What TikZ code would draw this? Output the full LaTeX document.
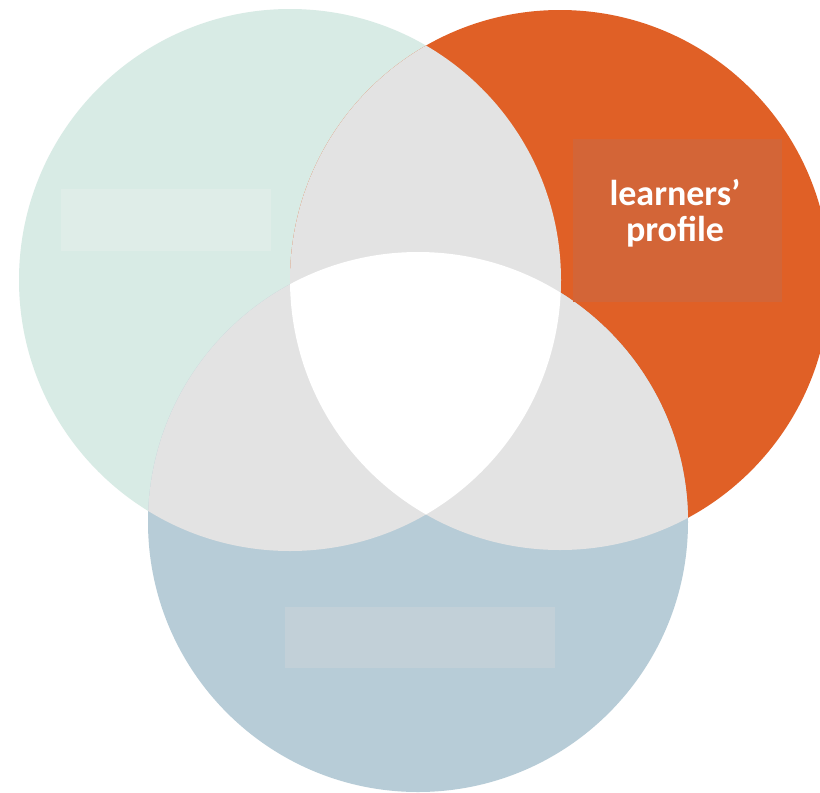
\documentclass[tikz,border=0pt]{standalone}
\usepackage{fontspec}
\setmainfont{Carlito}
\definecolor{mint}{HTML}{D8EBE5}
\definecolor{orng}{HTML}{E06026}
\definecolor{bluegray}{HTML}{B7CCD7}
\definecolor{overlap}{HTML}{E3E3E3}
\definecolor{mintbox}{HTML}{DFEDE8}
\definecolor{orngbox}{HTML}{D36537}
\definecolor{bluebox}{HTML}{C2D0D8}
\tikzset{
  labelbox/.style={draw=none, inner sep=0pt, anchor=north west},
  lbltext/.style={text=white, font=\fontsize{36}{36}\selectfont\bfseries, align=center, inner sep=0pt}
}
\begin{document}
\begin{tikzpicture}[x=1pt,y=-1pt]
\useasboundingbox (0,0) rectangle (820,793);
\fill[white] (0,0) rectangle (820,793);
\def\circA{(290,280) circle[radius=271pt]}
\def\circB{(560,280) circle[radius=270pt]}
\def\circC{(418,522) circle[radius=270pt]}
\begin{scope}
  \clip (0,0) rectangle (820,793);
  \fill[mint] \circA;
  \fill[orng] \circB;
  \fill[bluegray] \circC;
  \begin{scope}
    \clip \circA;
    \fill[overlap] \circB;
    \fill[overlap] \circC;
  \end{scope}
  \begin{scope}
    \clip \circB;
    \fill[overlap] \circC;
  \end{scope}
  \begin{scope}
    \clip \circA;
    \clip \circB;
    \fill[white] \circC;
  \end{scope}
\end{scope}
\node[labelbox, fill=mintbox, minimum width=210pt, minimum height=62pt] (boxA) at (61,189) {};
\node[labelbox, fill=orngbox, minimum width=209pt, minimum height=163pt] (boxB) at (573,139) {};
\node[labelbox, fill=bluebox, minimum width=270pt, minimum height=61pt] (boxC) at (285,607) {};
\node[lbltext] (lp) at (675,213) {learners’\\profile};
\end{tikzpicture}
\end{document}
